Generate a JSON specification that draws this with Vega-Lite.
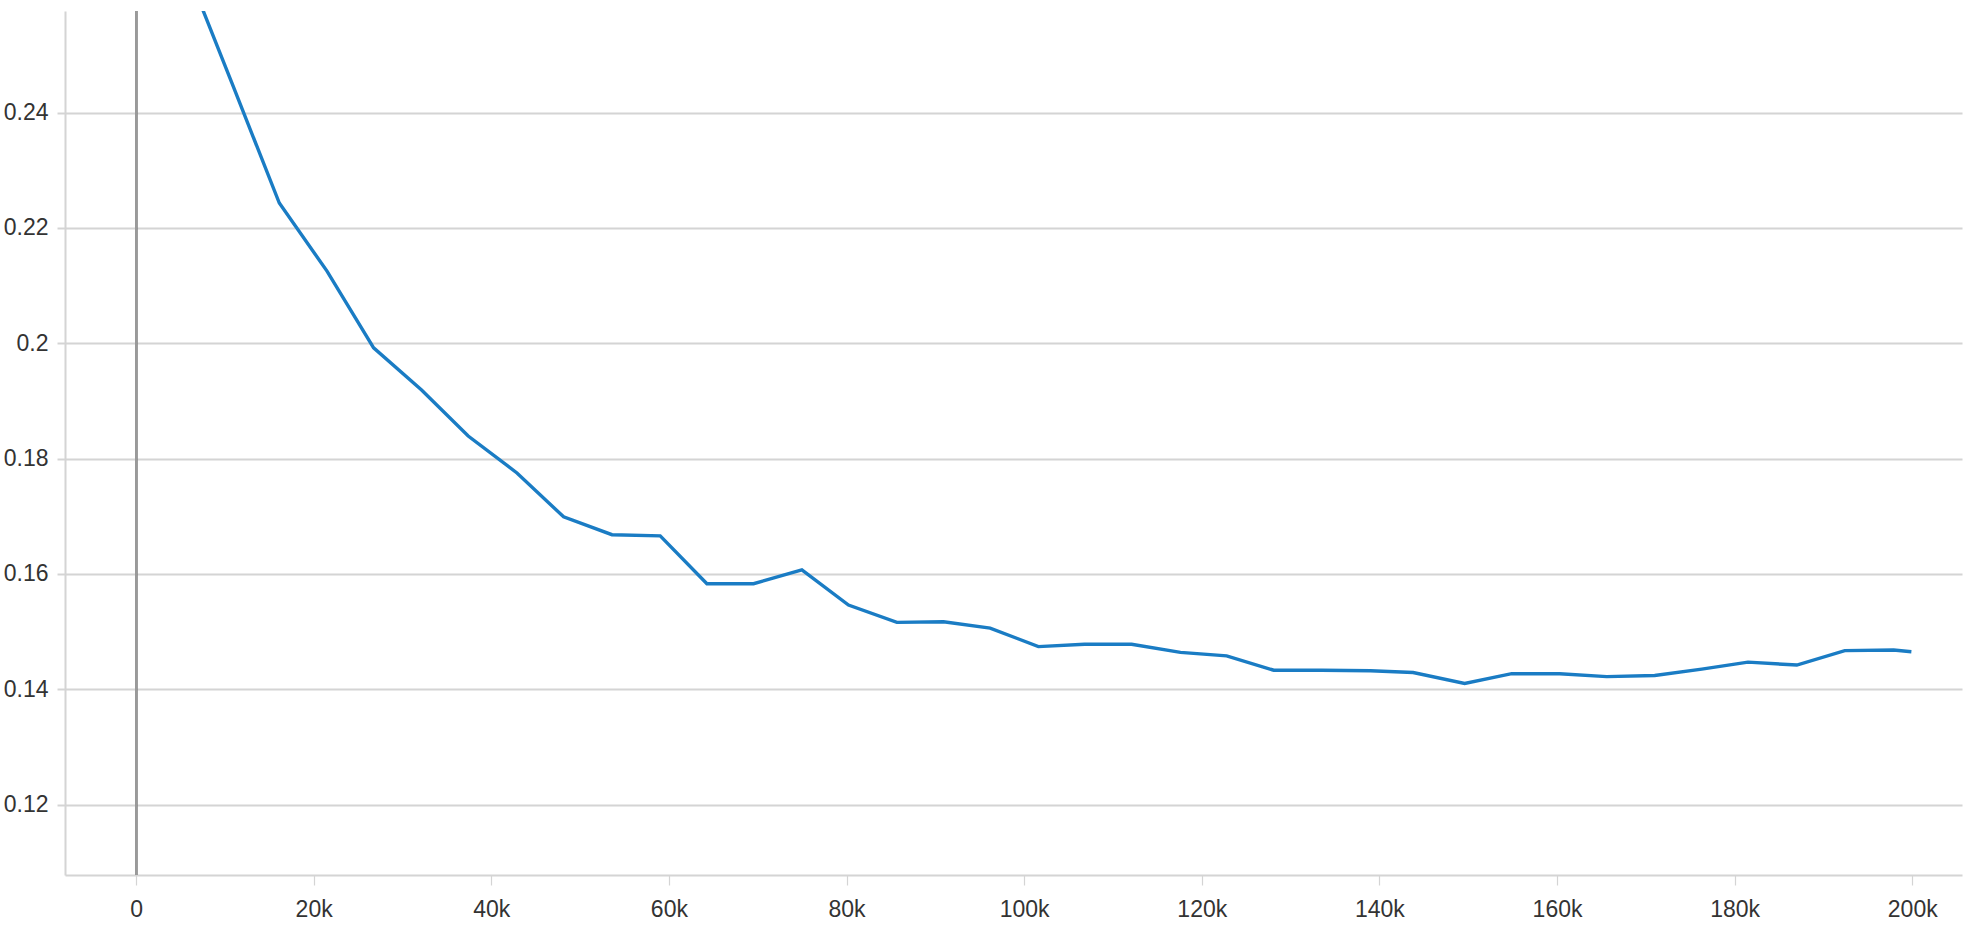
{
  "$schema": "https://vega.github.io/schema/vega-lite/v6.json",
  "width": 1897,
  "height": 864,
  "autosize": "none",
  "padding": {"left": 65, "top": 11, "right": 10, "bottom": 58},
  "background": "white",
  "config": {
    "view": {"stroke": null},
    "axis": {
      "labelFont": "Liberation Sans Narrow, Liberation Sans, Arial",
      "labelFontSize": 23,
      "labelColor": "#333333",
      "gridColor": "#d4d4d4",
      "tickColor": "#d4d4d4",
      "domainColor": "#d4d4d4",
      "domainWidth": 2,
      "title": null
    }
  },
  "data": {
    "values": [
      {"step": 5400, "loss": 0.266},
      {"step": 10800, "loss": 0.2451},
      {"step": 16130, "loss": 0.2243},
      {"step": 21500, "loss": 0.2125},
      {"step": 26750, "loss": 0.1992},
      {"step": 32150, "loss": 0.1919},
      {"step": 37400, "loss": 0.1839},
      {"step": 42890, "loss": 0.1775},
      {"step": 48140, "loss": 0.1699},
      {"step": 53590, "loss": 0.1668},
      {"step": 59020, "loss": 0.1666},
      {"step": 64280, "loss": 0.1583},
      {"step": 69530, "loss": 0.1583},
      {"step": 74970, "loss": 0.1607},
      {"step": 80220, "loss": 0.1546},
      {"step": 85670, "loss": 0.1516},
      {"step": 90920, "loss": 0.1517},
      {"step": 96170, "loss": 0.1506},
      {"step": 101600, "loss": 0.1474},
      {"step": 106800, "loss": 0.1478},
      {"step": 112100, "loss": 0.1478},
      {"step": 117600, "loss": 0.1464},
      {"step": 122800, "loss": 0.1458},
      {"step": 128100, "loss": 0.1433},
      {"step": 133500, "loss": 0.1433},
      {"step": 139000, "loss": 0.1432},
      {"step": 143800, "loss": 0.1429},
      {"step": 149600, "loss": 0.141},
      {"step": 154900, "loss": 0.1427},
      {"step": 160300, "loss": 0.1427},
      {"step": 165600, "loss": 0.1422},
      {"step": 171000, "loss": 0.1424},
      {"step": 176300, "loss": 0.1435},
      {"step": 181500, "loss": 0.1447},
      {"step": 187000, "loss": 0.1442},
      {"step": 192400, "loss": 0.1467},
      {"step": 197900, "loss": 0.1468},
      {"step": 199900, "loss": 0.1465}
    ]
  },
  "layer": [
    {
      "mark": {"type": "rule", "color": "#9a9a9a", "strokeWidth": 2},
      "encoding": {
        "x": {"datum": 0, "type": "quantitative", "scale": {"domain": [-8000, 205600], "nice": false, "zero": false}}
      }
    },
    {
      "mark": {"type": "line", "color": "#1a7cc4", "strokeWidth": 3.4, "clip": true},
      "encoding": {
        "x": {
          "field": "step",
          "type": "quantitative",
          "scale": {"domain": [-8000, 205600], "nice": false, "zero": false},
          "axis": {
            "values": [0, 20000, 40000, 60000, 80000, 100000, 120000, 140000, 160000, 180000, 200000],
            "labelExpr": "datum.value == 0 ? '0' : format(datum.value / 1000, 'd') + 'k'",
            "tickSize": 10,
            "labelPadding": 13,
            "gridWidth": 1.2,
            "tickWidth": 1.2
          }
        },
        "y": {
          "field": "loss",
          "type": "quantitative",
          "scale": {"domain": [0.1078, 0.2576], "nice": false, "zero": false},
          "axis": {
            "values": [0.12, 0.14, 0.16, 0.18, 0.2, 0.22, 0.24],
            "format": ".2~f",
            "tickSize": 8,
            "labelPadding": 9,
            "gridWidth": 2,
            "tickWidth": 2
          }
        }
      }
    }
  ]
}
